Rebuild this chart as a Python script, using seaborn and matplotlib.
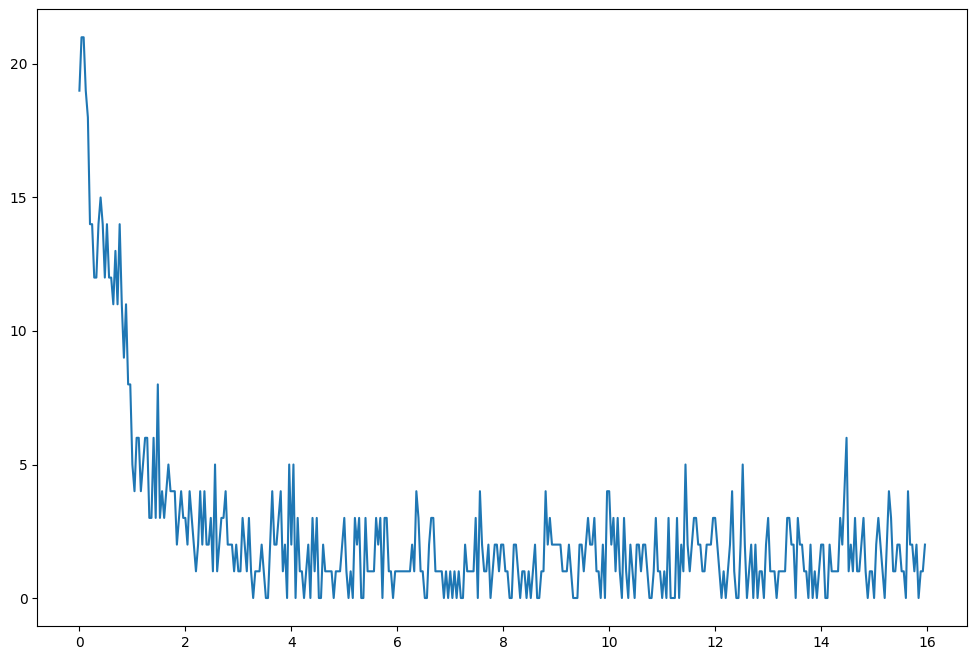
import numpy as np
import matplotlib
matplotlib.use("Agg")
import matplotlib.pyplot as plt
import seaborn as sns

# 采样间隔与点数
step = 0.04
n_points = 400

# 各段读数
seg_start = [19, 21, 21, 19, 18, 14, 14, 12, 12, 14, 15, 14, 12, 14, 12, 12, 11, 13, 11, 14,
             11, 9, 11, 8, 8]
seg_drop = [5, 4, 6, 6, 4, 5, 6, 6, 3, 3, 6, 3, 8, 3, 4, 3, 4, 5, 4, 4,
            4, 2, 3, 4, 3, 3, 2, 4, 3, 2]
seg_a = [1, 2, 4, 2, 4, 2, 2, 3, 1, 5, 1, 2, 3, 3, 4, 2, 2, 2, 1, 2,
         1, 1, 3, 2, 1, 3, 1, 0, 1, 1, 1, 2, 1, 0, 0, 2, 4, 2, 2, 3,
         4, 1, 2, 0, 5, 2, 5, 0, 3, 1, 1, 0, 1, 2, 0, 3, 1, 3, 0]
seg_b = [0, 2, 1, 1, 1, 1, 0, 1, 1, 1, 2, 3, 1, 0, 1, 0, 3, 2, 3, 0,
         0, 3, 1, 1, 1, 1, 3, 2, 3, 0, 3, 3, 1, 1, 0, 1, 1, 1, 1, 1,
         1, 1, 1, 2, 1, 4, 3, 1, 1, 0, 0, 2, 3, 3, 1, 1, 1, 1, 0]
seg_c = [1, 0, 1, 0, 1, 0, 1, 0, 0, 2, 1, 1, 1, 1, 3, 0, 4, 2, 1, 1,
         2, 0, 1, 2, 2, 1, 2, 2, 1, 1, 0, 0, 2, 2, 1, 0, 1, 1, 0, 1,
         0, 1, 2, 0, 0, 1, 1, 4, 2, 3, 2, 2, 2, 2, 2, 1, 1, 1, 2]
seg_d = [1, 0, 0, 0, 2, 2, 1, 2, 3, 2, 2, 3, 1, 1, 0, 2, 0, 4, 4, 2,
         3, 1, 3, 1, 0, 3, 1, 0, 2, 1, 0, 2, 2, 1, 2, 2, 1, 0, 0, 1,
         3, 1, 1, 0, 1, 0, 3, 0, 0, 0, 3, 0, 2, 1, 5, 2, 1, 2, 3, 3]
seg_e = [2, 2, 1, 1, 2, 2, 2, 3, 3, 2, 1, 0, 1, 0, 1, 2, 4, 1, 0, 0,
         2, 5, 2, 0, 1, 2, 0, 2, 0, 1, 1, 0, 2, 3, 1, 1, 1, 0, 1, 1,
         1, 1, 3, 3, 2, 2, 0, 3, 2, 2, 1, 1, 0, 2, 0, 1, 0, 1]
seg_f = [2, 2, 0, 0, 2, 1, 1, 1, 1, 3, 2, 4, 6, 1, 2, 1, 3, 1, 1, 2,
         3, 1, 0, 1, 1, 0, 2, 3, 2, 1, 0, 2, 4, 3, 1, 1, 2, 2, 1, 1,
         0, 4, 2, 2, 1, 2, 0, 1, 1, 2]

values = seg_start + seg_drop + seg_a + seg_b + seg_c + seg_d + seg_e + seg_f
t = np.arange(n_points) * step

fig, ax = plt.subplots(figsize=(9.77, 6.59), dpi=100)
fig.subplots_adjust(left=0.038, right=0.990, top=0.986, bottom=0.050)

sns.lineplot(x=t, y=values, ax=ax, color='#1f77b4', linewidth=1.5)

ax.set_xticks([0, 2, 4, 6, 8, 10, 12, 14, 16])
ax.set_yticks([0, 5, 10, 15, 20])

plt.savefig('out.png', dpi=100)
